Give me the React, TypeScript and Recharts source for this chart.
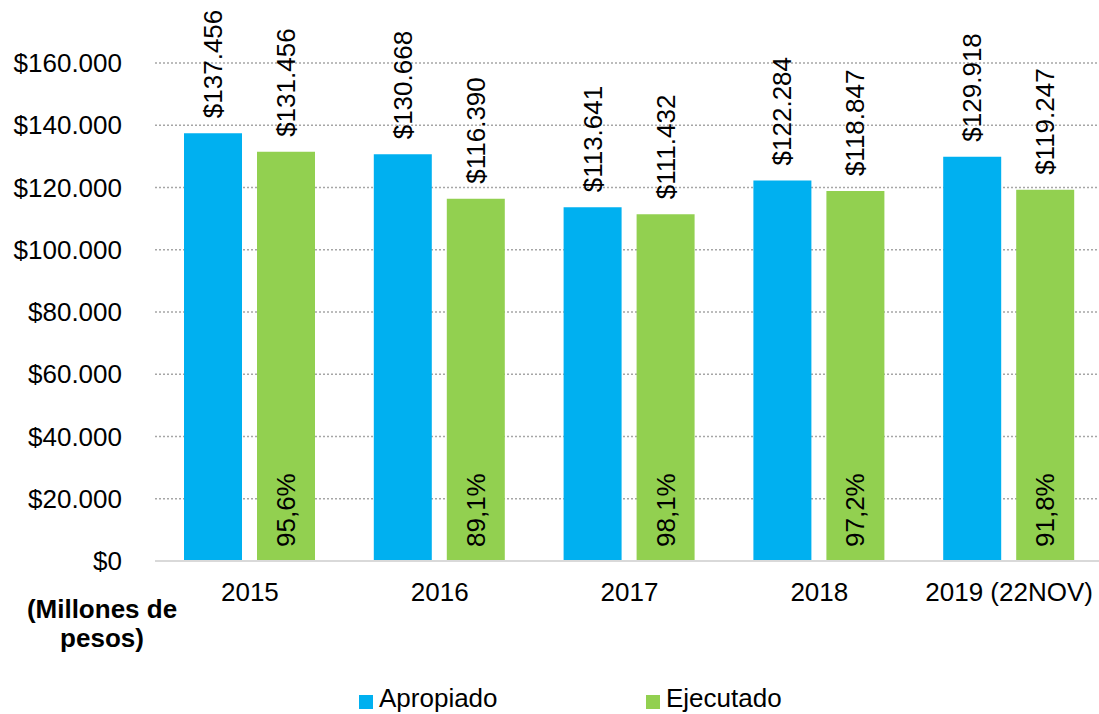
import { BarChart, Bar, XAxis, YAxis, CartesianGrid, LabelList } from "recharts";

const years = ["2015", "2016", "2017", "2018", "2019 (22NOV)"];
const apropiado = [137456, 130668, 113641, 122284, 129918];
const ejecutado = [131456, 116390, 111432, 118847, 119247];
const porcentaje = ["95,6%", "89,1%", "98,1%", "97,2%", "91,8%"];
const yTicks = [0, 20000, 40000, 60000, 80000, 100000, 120000, 140000, 160000];

const BLUE = "#00b0f0";
const GREEN = "#92d050";
const FONT = 26;

const data = years.map((year, i) => ({
  year,
  apropiado: apropiado[i],
  ejecutado: ejecutado[i],
  pct: porcentaje[i],
}));

const money = (v: number) => "$" + String(v).replace(/\B(?=(\d{3})+(?!\d))/g, ".");

const TopLabel = (props: any) => {
  const { x, y, width, value } = props;
  const cx = x + width / 2;
  const ty = y - 15;
  return (
    <text
      x={cx}
      y={ty}
      transform={`rotate(-90, ${cx}, ${ty})`}
      textAnchor="start"
      dominantBaseline="central"
      fontSize={FONT}
      fill="#000"
    >
      {money(value)}
    </text>
  );
};

const PctLabel = (props: any) => {
  const { x, y, width, height, value } = props;
  const cx = x + width / 2;
  const ty = y + height - 14;
  return (
    <text
      x={cx}
      y={ty}
      transform={`rotate(-90, ${cx}, ${ty})`}
      textAnchor="start"
      dominantBaseline="central"
      fontSize={FONT}
      fill="#000"
    >
      {value}
    </text>
  );
};

const LegendItem = ({ color, label, left }: { color: string; label: string; left: number }) => (
  <div style={{ position: "absolute", left, top: 684, height: 29, display: "flex", alignItems: "center" }}>
    <div style={{ width: 14, height: 14, background: color, marginRight: 6, marginTop: 6 }} />
    <span style={{ fontSize: FONT, lineHeight: "29px" }}>{label}</span>
  </div>
);

export default function App() {
  return (
    <div
      style={{
        position: "absolute",
        left: 0,
        top: 0,
        width: 1099,
        height: 714,
        overflow: "hidden",
        background: "#fff",
        fontFamily: "'Liberation Sans', Arial, sans-serif",
        color: "#000",
      }}
    >
      <BarChart
        width={1104}
        height={714}
        data={data}
        margin={{ top: 63, right: 0, bottom: 113, left: 0 }}
        barSize={58}
        barGap={15}
      >
        <CartesianGrid vertical={false} stroke="#a6a6a6" strokeDasharray="2 2" strokeWidth={1.3} />
        <XAxis
          dataKey="year"
          height={40}
          tickLine={false}
          axisLine={{ stroke: "#d9d9d9", strokeWidth: 2 }}
          tick={{ fill: "#000", fontSize: FONT }}
          tickMargin={16}
          interval={0}
        />
        <YAxis
          width={155}
          domain={[0, 160000]}
          ticks={yTicks}
          tickFormatter={money}
          tickLine={false}
          axisLine={false}
          tick={{ fill: "#000", fontSize: FONT }}
          tickMargin={27}
        />
        <Bar dataKey="apropiado" fill={BLUE} isAnimationActive={false}>
          <LabelList dataKey="apropiado" content={TopLabel} />
        </Bar>
        <Bar dataKey="ejecutado" fill={GREEN} isAnimationActive={false}>
          <LabelList dataKey="ejecutado" content={TopLabel} />
          <LabelList dataKey="pct" content={PctLabel} />
        </Bar>
      </BarChart>
      <div
        style={{
          position: "absolute",
          left: 2,
          top: 595,
          width: 200,
          textAlign: "center",
          fontWeight: "bold",
          fontSize: FONT,
          lineHeight: "29px",
        }}
      >
        (Millones de
        <br />
        pesos)
      </div>
      <LegendItem color={BLUE} label="Apropiado" left={359} />
      <LegendItem color={GREEN} label="Ejecutado" left={646} />
    </div>
  );
}
